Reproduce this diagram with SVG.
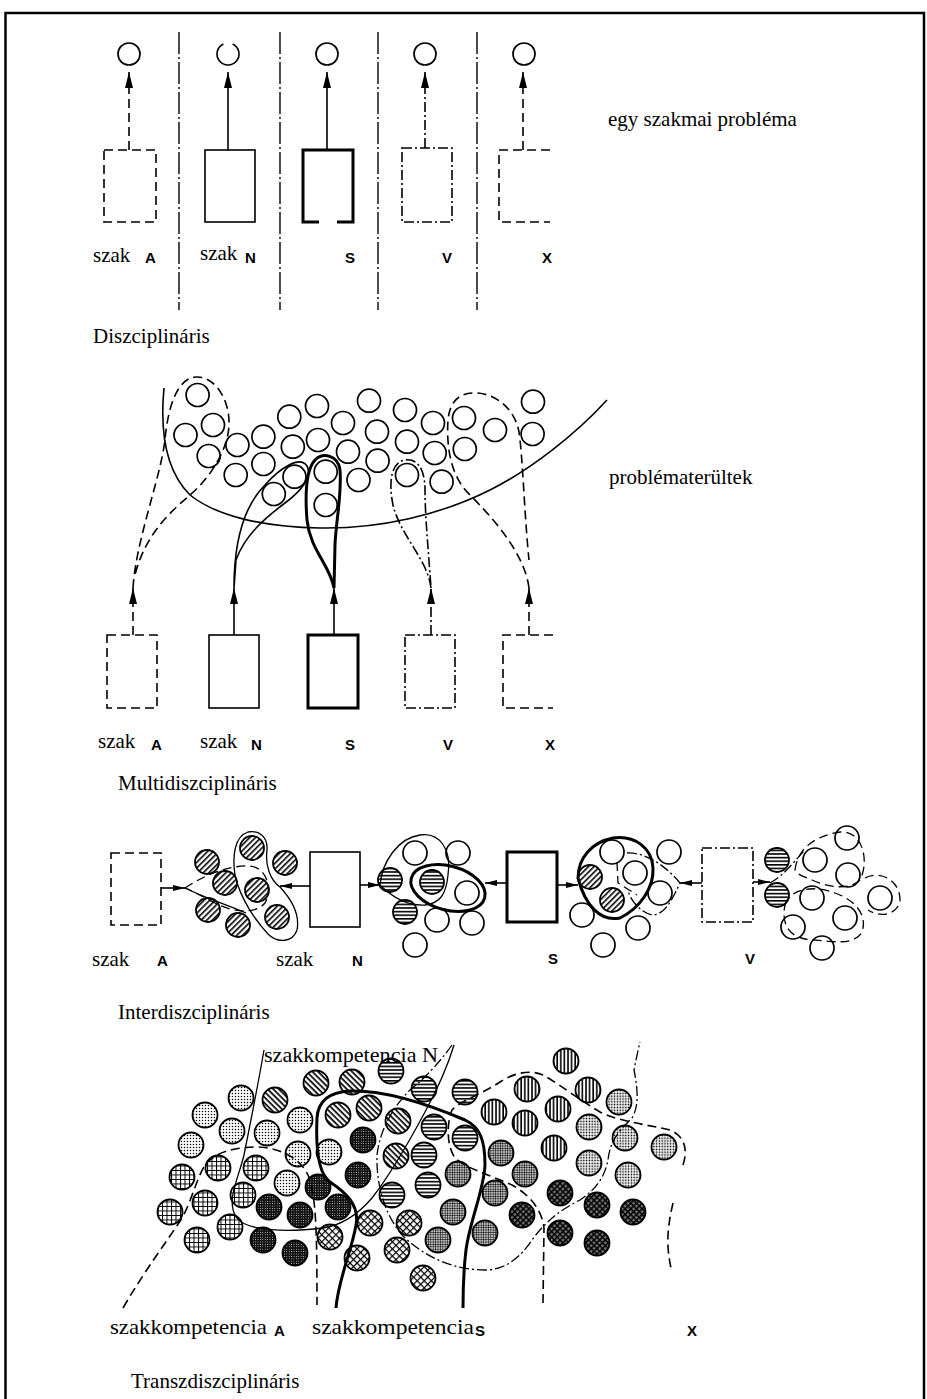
<svg xmlns="http://www.w3.org/2000/svg" width="927" height="1399" viewBox="0 0 927 1399">
<style>
.ln{fill:none;stroke:#000;stroke-width:1.6}
.thin{fill:none;stroke:#000;stroke-width:1.3}
.thick{fill:none;stroke:#000;stroke-width:3}
.dash{stroke-dasharray:9 5}
.dd{stroke-dasharray:10 3 2 3}
.div{fill:none;stroke:#000;stroke-width:1.4;stroke-dasharray:22 3 2 3}
.o{fill:#fff;stroke:#000;stroke-width:1.7}
.c{stroke:#000;stroke-width:1.8}
.cD{fill:url(#pD)}.cL{fill:url(#pL)}.cM{fill:url(#pM)}.cK{fill:url(#pK)}
.cB{fill:url(#pB)}.cF{fill:url(#pF)}.cH{fill:url(#pH)}.cV{fill:url(#pV)}
.cG{fill:url(#pG)}.cX{fill:url(#pX)}.cQ{fill:url(#pQ)}
.serif{font-family:"Liberation Serif","Times New Roman",serif;font-size:21px;fill:#000}
.sans{font-family:"Liberation Sans",Arial,sans-serif;font-weight:bold;font-size:15px;fill:#000}
</style>
<defs>
<marker id="ah" viewBox="0 0 16 8" refX="16" refY="4" markerWidth="16" markerHeight="8" markerUnits="userSpaceOnUse" orient="auto"><path d="M0,0 L16,4 L0,8 Z" fill="#000"/></marker>
<marker id="ah2" viewBox="0 0 12 6" refX="12" refY="3" markerWidth="12" markerHeight="6" markerUnits="userSpaceOnUse" orient="auto"><path d="M0,0 L12,3 L0,6 Z" fill="#000"/></marker>
<pattern id="pD" width="3" height="3" patternUnits="userSpaceOnUse"><rect width="3" height="3" fill="#fff"/><circle cx="1.5" cy="1.5" r="0.75" fill="#000"/></pattern>
<pattern id="pL" width="2.8" height="2.8" patternUnits="userSpaceOnUse"><rect width="2.8" height="2.8" fill="#fff"/><circle cx="1.4" cy="1.4" r="0.85" fill="#000"/></pattern>
<pattern id="pM" width="2.4" height="2.4" patternUnits="userSpaceOnUse"><rect width="2.4" height="2.4" fill="#fff"/><circle cx="1.2" cy="1.2" r="0.95" fill="#000"/></pattern>
<pattern id="pK" width="2.4" height="2.4" patternUnits="userSpaceOnUse"><rect width="2.4" height="2.4" fill="#111"/><circle cx="1.2" cy="1.2" r="0.45" fill="#fff"/></pattern>
<pattern id="pB" width="4" height="4" patternUnits="userSpaceOnUse" patternTransform="rotate(45)"><rect width="4" height="4" fill="#fff"/><rect width="4" height="1.7" fill="#000"/></pattern>
<pattern id="pF" width="4" height="4" patternUnits="userSpaceOnUse" patternTransform="rotate(-45)"><rect width="4" height="4" fill="#fff"/><rect width="4" height="1.6" fill="#000"/></pattern>
<pattern id="pH" width="4" height="3.6" patternUnits="userSpaceOnUse"><rect width="4" height="3.6" fill="#fff"/><rect width="4" height="1.6" fill="#000"/></pattern>
<pattern id="pV" width="4" height="3.6" patternUnits="userSpaceOnUse" patternTransform="rotate(90)"><rect width="4" height="3.6" fill="#fff"/><rect width="4" height="1.6" fill="#000"/></pattern>
<pattern id="pG" width="4.5" height="4.5" patternUnits="userSpaceOnUse"><rect width="4.5" height="4.5" fill="#fff"/><path d="M0,0.5H4.5M0.5,0V4.5" stroke="#000" stroke-width="1"/></pattern>
<pattern id="pX" width="5" height="5" patternUnits="userSpaceOnUse" patternTransform="rotate(45)"><rect width="5" height="5" fill="#fff"/><path d="M0,0.6H5M0.6,0V5" stroke="#000" stroke-width="1.2"/></pattern>
<pattern id="pQ" width="4" height="4" patternUnits="userSpaceOnUse" patternTransform="rotate(45)"><rect width="4" height="4" fill="#777"/><path d="M0,0.8H4M0.8,0V4" stroke="#000" stroke-width="1.6"/></pattern>
</defs>
<rect width="927" height="1399" fill="#fff"/>
<rect id="frame" x="5.5" y="13" width="918.5" height="1392" fill="none" stroke="#000" stroke-width="2.5"/>

<!-- ===== Diszciplináris ===== -->
<g id="d-dividers">
<line class="div" x1="179" y1="32" x2="179" y2="310"/>
<line class="div" x1="280" y1="32" x2="280" y2="310"/>
<line class="div" x1="378" y1="32" x2="378" y2="310"/>
<line class="div" x1="477" y1="32" x2="477" y2="310"/>
</g>
<g id="d-problems">
<circle class="o" cx="129" cy="54" r="11"/>
<path class="ln" d="M232.6,44 A11,11 0 1 1 223.4,44" stroke-width="1.7"/>
<circle class="o" cx="327" cy="54" r="11"/>
<circle class="o" cx="425" cy="54" r="11"/>
<circle class="o" cx="524" cy="54" r="11"/>
</g>
<g id="d-box-A"><rect class="ln dash" x="104" y="150" width="52" height="72"/><text class="serif" x="93" y="262">szak</text><text class="sans" x="145" y="263">A</text></g>
<g id="d-box-N"><rect class="ln" x="205" y="150" width="50" height="72"/><text class="serif" x="200" y="260">szak</text><text class="sans" x="245" y="263">N</text></g>
<g id="d-box-S"><path class="thick" d="M319,222 H303 V150 H353 V222 H337"/><text class="sans" x="345" y="263">S</text></g>
<g id="d-box-V"><rect class="ln dd" x="402" y="148" width="50" height="74"/><text class="sans" x="442" y="263">V</text></g>
<g id="d-box-X"><path class="ln dash" d="M550,150 H499 V222 H550"/><text class="sans" x="542" y="263">X</text></g>
<text class="serif" x="608" y="126" font-size="20">egy szakmai probléma</text>
<text class="serif" x="93" y="343">Diszciplináris</text>

<!-- ===== Multidiszciplináris ===== -->
<g id="m-problem-area">
<path class="ln" d="M164,388 C160,430 165,470 190,495 C215,515 260,527 320,528 C380,529 440,515 490,490 C530,470 575,435 607,400"/>
<g>
<circle class="o" cx="197.6" cy="395" r="11.5"/><circle class="o" cx="185.5" cy="435" r="11.5"/>
<circle class="o" cx="213" cy="425" r="11.5"/><circle class="o" cx="208.7" cy="456" r="11.5"/>
<circle class="o" cx="237.4" cy="445" r="11.5"/><circle class="o" cx="235.7" cy="475" r="11.5"/>
<circle class="o" cx="263.4" cy="436.7" r="11.5"/><circle class="o" cx="263.4" cy="464" r="11.5"/>
<circle class="o" cx="289.3" cy="416.7" r="11.5"/><circle class="o" cx="317" cy="406" r="11.5"/>
<circle class="o" cx="292.8" cy="446.7" r="11.5"/><circle class="o" cx="318" cy="440" r="11.5"/>
<circle class="o" cx="294.5" cy="476.7" r="11.5"/><circle class="o" cx="273.8" cy="494" r="11.5"/>
<circle class="o" cx="325.7" cy="471.7" r="11.5"/><circle class="o" cx="325.7" cy="505" r="11.5"/>
<circle class="o" cx="343" cy="423" r="11.5"/><circle class="o" cx="348" cy="451.7" r="11.5"/>
<circle class="o" cx="358.5" cy="480" r="11.5"/><circle class="o" cx="369" cy="400.7" r="11.5"/>
<circle class="o" cx="377" cy="431.7" r="11.5"/><circle class="o" cx="377.6" cy="460.7" r="11.5"/>
<circle class="o" cx="405" cy="410" r="11.5"/><circle class="o" cx="407" cy="441.7" r="11.5"/>
<circle class="o" cx="407" cy="475" r="11.5"/><circle class="o" cx="433" cy="423" r="11.5"/>
<circle class="o" cx="434.7" cy="453" r="11.5"/><circle class="o" cx="441.6" cy="481.7" r="11.5"/>
<circle class="o" cx="464" cy="418" r="11.5"/><circle class="o" cx="464.8" cy="449" r="11.5"/>
<circle class="o" cx="495" cy="430" r="11.5"/><circle class="o" cx="533" cy="401.7" r="11.5"/>
<circle class="o" cx="532.6" cy="434" r="11.5"/>
</g>
</g>
<g id="m-box-A"><rect class="ln dash" x="107" y="635" width="50" height="73"/><text class="serif" x="98" y="748">szak</text><text class="sans" x="151" y="750">A</text></g>
<g id="m-box-N"><rect class="ln" x="209" y="635" width="50" height="73"/><text class="serif" x="200" y="748">szak</text><text class="sans" x="251" y="750">N</text></g>
<g id="m-box-S"><rect class="thick" x="308" y="635" width="50" height="73"/><text class="sans" x="345" y="750">S</text></g>
<g id="m-box-V"><rect class="ln dd" x="405" y="635" width="50" height="73"/><text class="sans" x="443" y="750">V</text></g>
<g id="m-box-X"><path class="ln dash" d="M553,635 H503 V708 H553"/><text class="sans" x="545" y="750">X</text></g>
<text class="serif" x="609" y="484">problématerültek</text>
<text class="serif" x="118" y="790">Multidiszciplináris</text>

<!-- ===== Interdiszciplináris ===== -->
<g id="i-box-A"><rect class="ln dash" x="111" y="853" width="50" height="72"/><text class="serif" x="92" y="966">szak</text><text class="sans" x="157" y="966">A</text></g>
<g id="i-box-N"><rect class="ln" x="310" y="852" width="50" height="75"/><text class="serif" x="276" y="966">szak</text><text class="sans" x="352" y="966">N</text></g>
<g id="i-box-S"><rect class="thick" x="507" y="852" width="50" height="70"/><text class="sans" x="548" y="964">S</text></g>
<g id="i-box-V"><rect class="ln dd" x="702" y="848" width="51" height="74"/><text class="sans" x="745" y="964">V</text></g>
<g id="i-cluster-1">
<circle class="c cF" cx="207" cy="862" r="12"/><circle class="c cF" cx="225" cy="883" r="12"/>
<circle class="c cF" cx="208" cy="910" r="12"/><circle class="c cF" cx="238" cy="925" r="12"/>
<circle class="c cF" cx="252" cy="848" r="12"/><circle class="c cF" cx="257" cy="890" r="12"/>
<circle class="c cF" cx="277" cy="917" r="12"/><circle class="c cF" cx="285" cy="863" r="12"/>
</g>
<g id="i-cluster-2">
<circle class="o" cx="415" cy="853" r="12"/><circle class="o" cx="458" cy="853" r="12"/>
<circle class="o" cx="467" cy="893" r="12"/><circle class="o" cx="437" cy="920" r="12"/>
<circle class="o" cx="472" cy="923" r="12"/><circle class="o" cx="415" cy="945" r="12"/>
<circle class="c cH" cx="390" cy="880" r="12"/><circle class="c cH" cx="432" cy="882" r="12"/>
<circle class="c cH" cx="405" cy="912" r="12"/>
</g>
<g id="i-cluster-3">
<circle class="o" cx="612" cy="852" r="12"/><circle class="o" cx="669" cy="852" r="12"/>
<circle class="o" cx="635" cy="873" r="12"/><circle class="o" cx="660" cy="893" r="12"/>
<circle class="o" cx="582" cy="915" r="12"/><circle class="o" cx="638" cy="928" r="12"/>
<circle class="o" cx="603" cy="945" r="12"/>
<circle class="c cF" cx="590" cy="877" r="12"/><circle class="c cF" cx="612" cy="900" r="12"/>
</g>
<g id="i-cluster-4">
<circle class="c cH" cx="777" cy="860" r="12"/><circle class="c cH" cx="777" cy="895" r="12"/>
<circle class="o" cx="847" cy="838" r="12"/><circle class="o" cx="815" cy="860" r="12"/>
<circle class="o" cx="848" cy="875" r="12"/><circle class="o" cx="812" cy="898" r="12"/>
<circle class="o" cx="880" cy="898" r="12"/><circle class="o" cx="845" cy="918" r="12"/>
<circle class="o" cx="793" cy="927" r="12"/><circle class="o" cx="822" cy="948" r="12"/>
</g>
<text class="serif" x="118" y="1019">Interdiszciplináris</text>

<!-- ===== Transzdiszciplináris ===== -->
<g id="t-competences">
<circle class="c cV" cx="566" cy="1061" r="12.5"/><circle class="c cH" cx="391" cy="1071" r="12.5"/>
<circle class="c cB" cx="316" cy="1083" r="12.5"/><circle class="c cB" cx="352" cy="1082" r="12.5"/>
<circle class="c cH" cx="424" cy="1089" r="12.5"/><circle class="c cH" cx="465" cy="1092" r="12.5"/>
<circle class="c cV" cx="527" cy="1089" r="12.5"/><circle class="c cV" cx="588" cy="1090" r="12.5"/>
<circle class="c cD" cx="241" cy="1098" r="12.5"/><circle class="c cB" cx="275" cy="1100" r="12.5"/>
<circle class="c cL" cx="619" cy="1102" r="12.5"/><circle class="c cD" cx="205" cy="1115" r="12.5"/>
<circle class="c cB" cx="369" cy="1108" r="12.5"/><circle class="c cB" cx="338" cy="1115" r="12.5"/>
<circle class="c cD" cx="300" cy="1120" r="12.5"/><circle class="c cB" cx="398" cy="1121" r="12.5"/>
<circle class="c cH" cx="434" cy="1127" r="12.5"/><circle class="c cH" cx="465" cy="1138" r="12.5"/>
<circle class="c cV" cx="494" cy="1112" r="12.5"/><circle class="c cV" cx="525" cy="1123" r="12.5"/>
<circle class="c cV" cx="558" cy="1109" r="12.5"/><circle class="c cL" cx="589" cy="1127" r="12.5"/>
<circle class="c cL" cx="625" cy="1138" r="12.5"/><circle class="c cL" cx="664" cy="1147" r="12.5"/>
<circle class="c cD" cx="232" cy="1131" r="12.5"/><circle class="c cD" cx="267" cy="1133" r="12.5"/>
<circle class="c cD" cx="191" cy="1145" r="12.5"/><circle class="c cD" cx="298" cy="1154" r="12.5"/>
<circle class="c cD" cx="329" cy="1152" r="12.5"/><circle class="c cK" cx="363" cy="1140" r="12.5"/>
<circle class="c cB" cx="396" cy="1156" r="12.5"/><circle class="c cH" cx="424" cy="1155" r="12.5"/>
<circle class="c cM" cx="501" cy="1153" r="12.5"/><circle class="c cV" cx="554" cy="1148" r="12.5"/>
<circle class="c cL" cx="589" cy="1163" r="12.5"/><circle class="c cL" cx="628" cy="1175" r="12.5"/>
<circle class="c cM" cx="525" cy="1174" r="12.5"/><circle class="c cG" cx="182" cy="1177" r="12.5"/>
<circle class="c cG" cx="218" cy="1168" r="12.5"/><circle class="c cG" cx="256" cy="1168" r="12.5"/>
<circle class="c cD" cx="287" cy="1183" r="12.5"/><circle class="c cK" cx="318" cy="1187" r="12.5"/>
<circle class="c cK" cx="358" cy="1175" r="12.5"/><circle class="c cH" cx="392" cy="1195" r="12.5"/>
<circle class="c cH" cx="428" cy="1185" r="12.5"/><circle class="c cM" cx="458" cy="1174" r="12.5"/>
<circle class="c cM" cx="495" cy="1193" r="12.5"/><circle class="c cQ" cx="560" cy="1193" r="12.5"/>
<circle class="c cQ" cx="597" cy="1205" r="12.5"/><circle class="c cQ" cx="633" cy="1212" r="12.5"/>
<circle class="c cG" cx="170" cy="1212" r="12.5"/><circle class="c cG" cx="205" cy="1203" r="12.5"/>
<circle class="c cG" cx="243" cy="1195" r="12.5"/><circle class="c cK" cx="269" cy="1207" r="12.5"/>
<circle class="c cK" cx="300" cy="1215" r="12.5"/><circle class="c cK" cx="338" cy="1207" r="12.5"/>
<circle class="c cX" cx="370" cy="1223" r="12.5"/><circle class="c cX" cx="409" cy="1223" r="12.5"/>
<circle class="c cM" cx="453" cy="1212" r="12.5"/><circle class="c cQ" cx="522" cy="1215" r="12.5"/>
<circle class="c cG" cx="197" cy="1240" r="12.5"/><circle class="c cG" cx="230" cy="1227" r="12.5"/>
<circle class="c cK" cx="263" cy="1240" r="12.5"/><circle class="c cK" cx="295" cy="1253" r="12.5"/>
<circle class="c cX" cx="330" cy="1237" r="12.5"/><circle class="c cX" cx="357" cy="1258" r="12.5"/>
<circle class="c cX" cx="397" cy="1250" r="12.5"/><circle class="c cM" cx="438" cy="1240" r="12.5"/>
<circle class="c cM" cx="485" cy="1233" r="12.5"/><circle class="c cQ" cx="560" cy="1233" r="12.5"/>
<circle class="c cQ" cx="597" cy="1243" r="12.5"/><circle class="c cX" cx="423" cy="1278" r="12.5"/>
</g>
<text class="serif" x="264" y="1062" textLength="174" lengthAdjust="spacingAndGlyphs">szakkompetencia N</text>
<text class="serif" x="110" y="1334" textLength="157" lengthAdjust="spacingAndGlyphs">szakkompetencia</text>
<text class="sans" x="274" y="1336">A</text>
<text class="serif" x="312" y="1334" textLength="162" lengthAdjust="spacingAndGlyphs">szakkompetencia</text>
<text class="sans" x="475" y="1336">S</text>
<text class="sans" x="687" y="1336">X</text>
<text class="serif" x="131" y="1388" font-size="20.5">Transzdiszciplináris</text>

<!-- ===== Connectors ===== -->
<g id="connectors">
<!-- top -->
<path class="ln dash" d="M129,150 V72" marker-end="url(#ah)"/>
<path class="ln" d="M228,150 V72" marker-end="url(#ah)"/>
<path class="ln" stroke-width="2.2" d="M327,150 V72" marker-end="url(#ah)"/>
<path class="ln dd" d="M425,148 V72" marker-end="url(#ah)"/>
<path class="ln dash" d="M523,150 V72" marker-end="url(#ah)"/>
<!-- multi -->
<path class="ln dash" d="M133,635 V588" marker-end="url(#ah)"/>
<path class="ln" d="M234,635 V588" marker-end="url(#ah)"/>
<path class="ln" stroke-width="2.4" d="M334,635 V588" marker-end="url(#ah)"/>
<path class="ln dd" d="M431,635 V588" marker-end="url(#ah)"/>
<path class="ln dash" d="M529,635 V588" marker-end="url(#ah)"/>
<path class="ln dash" d="M133,588 C136,540 160,480 165,440 C168,405 178,378 196,377 C215,376 230,400 229,425 C228,450 210,478 190,495 C170,512 145,535 135,575"/>
<path class="ln" d="M234,588 C234,540 245,505 265,485 C280,468 300,455 307,466 C313,477 300,492 285,503 C265,518 245,535 236,560 L234,588"/>
<path class="thick" stroke-width="2.6" d="M334,588 C330,565 310,550 307,520 C305,495 306,470 315,460 C323,452 338,455 340,470 C342,495 336,520 335,545 L334,588"/>
<path class="ln dd" d="M431,588 C428,560 400,535 393,505 C388,480 392,462 405,460 C418,458 425,470 425,490 C425,515 428,545 431,588"/>
<path class="ln dash" d="M529,588 C525,555 495,520 470,495 C452,478 446,450 448,420 C450,400 460,392 478,393 C498,395 515,410 519,432 C523,460 524,510 529,560"/>
<!-- inter -->
<path class="ln" d="M161,888 H185" marker-end="url(#ah2)"/>
<path class="ln" d="M310,886 H280" marker-end="url(#ah2)"/>
<path class="ln" d="M360,885 H380" marker-end="url(#ah2)"/>
<path class="ln" d="M507,883 H485" marker-end="url(#ah2)"/>
<path class="ln" d="M557,885 H578" marker-end="url(#ah2)"/>
<path class="ln" d="M702,883 H680" marker-end="url(#ah2)"/>
<path class="ln" d="M753,882 H770" marker-end="url(#ah2)"/>
<path class="thin dash" d="M185,888 C200,878 225,865 250,866 C268,868 272,890 265,903 C255,915 232,912 215,903 C203,897 193,891 185,888"/>
<path class="thin" d="M185,888 C205,898 228,905 246,913"/>
<path class="thin" d="M280,887 C270,880 265,865 267,850 C268,836 258,830 248,832 C235,836 232,855 235,875 C240,898 255,920 268,934 C278,944 293,942 297,930 C300,915 292,900 280,887"/>
<path class="thin" d="M380,885 C382,862 398,838 420,835 C440,832 452,850 448,875 C446,895 440,903 425,905 C405,906 390,895 380,885"/>
<ellipse class="thick" cx="448" cy="888" rx="38" ry="22" transform="rotate(15 448 888)" stroke-width="2.6"/>
<path class="thick" stroke-width="2.6" d="M578,878 C578,858 592,842 613,838 C635,835 652,848 653,868 C654,888 640,908 620,918 C600,922 585,905 578,878 Z"/>
<path class="thin dash" d="M617,862 L618,883 L637,895"/>
<path class="thin dd" d="M627,853 C645,852 665,865 680,883 C672,900 665,915 652,915 C640,912 630,900 628,890"/>
<path class="thin dd" d="M770,883 C785,875 795,860 805,850"/>
<path class="thin dash" d="M795,870 C798,845 820,835 840,832 C862,830 870,860 860,880 C850,890 830,888 812,880 C805,877 797,875 795,870"/>
<path class="thin dash" d="M785,905 C790,888 815,885 835,893 C855,900 868,915 862,932 C855,945 835,942 815,940 C795,940 780,930 785,905"/>
<path class="thin dash" d="M865,878 C880,870 900,880 900,900 C898,915 880,918 868,910"/>
<!-- trans -->
<path class="thin" d="M264,1050 C258,1085 250,1125 244,1155 C238,1180 226,1200 236,1217 C246,1232 290,1232 323,1228 C343,1225 360,1212 372,1198 C390,1175 410,1140 425,1112 C438,1088 448,1065 454,1045"/>
<path class="thick" stroke-width="2.8" d="M336,1308 C338,1280 352,1250 356,1225 C360,1205 345,1192 330,1182 C316,1172 316,1140 317,1118 C318,1100 330,1092 350,1091 C385,1090 430,1105 465,1120 C480,1127 485,1140 485,1165 C484,1190 470,1220 466,1250 C463,1275 463,1295 463,1308"/>
<path class="ln dash" d="M123,1308 C145,1270 168,1240 182,1218 C192,1200 196,1180 205,1165 C215,1152 235,1147 258,1147 C280,1148 300,1158 308,1175 C316,1195 317,1230 317,1305"/>
<path class="thin dd" d="M452,1045 C440,1062 425,1078 410,1090 C392,1108 380,1130 377,1155 C376,1185 385,1215 402,1235 C425,1258 455,1270 485,1270 C505,1270 520,1258 532,1240 C545,1222 560,1210 580,1200 C598,1188 605,1175 608,1160 C610,1140 620,1130 632,1118 C640,1105 637,1085 634,1070 C636,1060 638,1050 640,1042"/>
<path class="ln dash" d="M543,1303 L544,1228 C542,1210 530,1195 512,1185 C490,1175 465,1168 455,1158 C446,1145 447,1122 452,1110 C462,1100 480,1095 500,1082 C512,1074 530,1068 545,1076 C560,1085 580,1100 600,1112 C620,1122 650,1125 670,1130 C685,1136 688,1150 683,1165"/>
<path class="ln dash" d="M673,1203 C668,1225 665,1245 672,1272"/>
</g>
</svg>
